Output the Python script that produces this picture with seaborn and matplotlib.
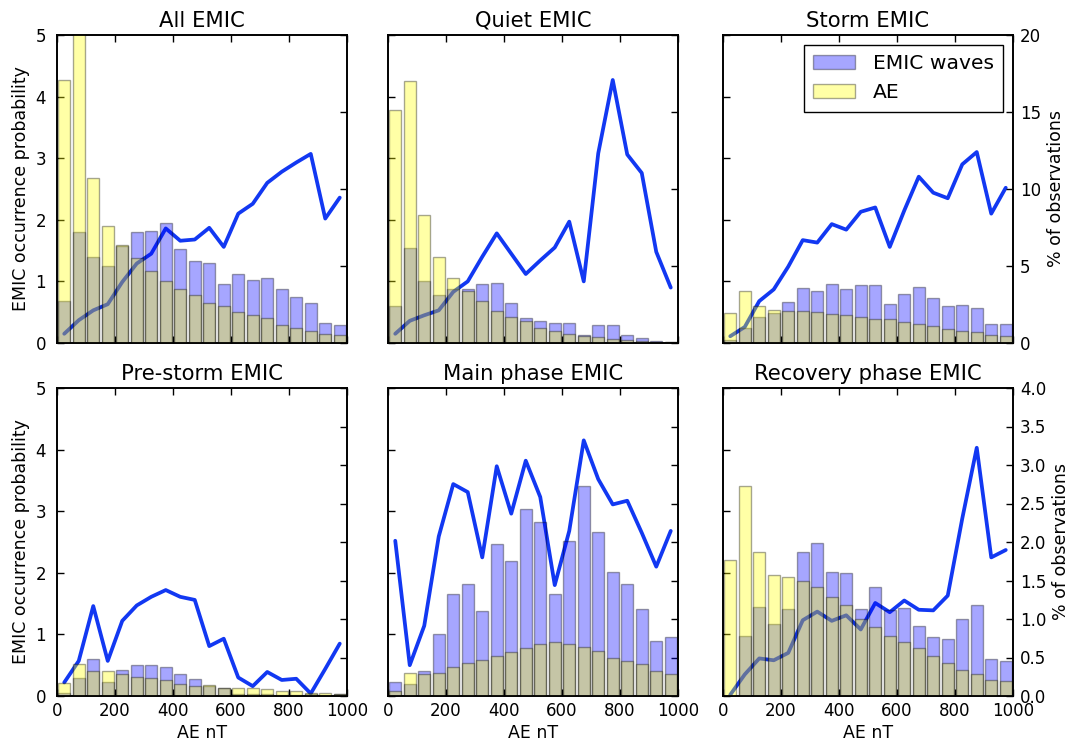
import matplotlib
matplotlib.use("Agg")
import matplotlib.pyplot as plt
from matplotlib.ticker import FormatStrFormatter
import numpy as np
import seaborn as sns

# AE bins: 50 nT wide, 0-1000 nT
ae_bin_centres = np.arange(25, 1000, 50)

titles = ["All EMIC", "Quiet EMIC", "Storm EMIC",
          "Pre-storm EMIC", "Main phase EMIC", "Recovery phase EMIC"]

# EMIC occurrence probability in each AE bin (left axis)
prob_all = [0.15, 0.37, 0.53, 0.63, 0.99, 1.29, 1.45, 1.86, 1.66, 1.68,
            1.87, 1.56, 2.10, 2.26, 2.60, 2.78, 2.93, 3.07, 2.02, 2.36]
prob_quiet = [0.15, 0.36, 0.45, 0.53, 0.83, 1.00, 1.40, 1.78, 1.45, 1.12,
              1.34, 1.55, 1.97, 1.00, 3.08, 4.27, 3.06, 2.76, 1.48, 0.90]
prob_storm = [0.11, 0.26, 0.68, 0.87, 1.24, 1.67, 1.63, 1.93, 1.84, 2.13,
              2.20, 1.56, 2.15, 2.70, 2.44, 2.35, 2.90, 3.10, 2.10, 2.52]
prob_pre = [0.22, 0.57, 1.46, 0.57, 1.22, 1.47, 1.61, 1.72, 1.61, 1.56,
            0.81, 0.93, 0.30, 0.16, 0.39, 0.26, 0.28, 0.04, 0.44, 0.85]
prob_main = [2.52, 0.50, 1.14, 2.59, 3.44, 3.31, 2.25, 3.73, 2.96, 3.82,
             3.23, 1.80, 2.68, 4.15, 3.52, 3.11, 3.17, 2.65, 2.10, 2.68]
prob_recovery = [0.02, 0.35, 0.61, 0.58, 0.70, 1.23, 1.37, 1.22, 1.31, 1.08,
                 1.51, 1.36, 1.55, 1.40, 1.39, 1.63, 2.88, 4.03, 2.25, 2.37]

# % of observations of EMIC waves in each AE bin (right axis)
emic_all = [2.7, 7.2, 5.6, 5.0, 6.3, 7.2, 7.3, 7.8, 6.1, 5.3,
            5.2, 3.8, 4.5, 4.1, 4.2, 3.5, 3.0, 2.6, 1.3, 1.2]
emic_quiet = [2.4, 6.2, 4.0, 3.1, 3.5, 3.5, 3.8, 3.9, 2.6, 1.6,
              1.4, 1.3, 1.3, 0.5, 1.2, 1.2, 0.5, 0.3, 0.1, 0.05]
emic_storm = [0.22, 0.98, 1.69, 1.95, 2.67, 3.55, 3.38, 3.81, 3.53, 3.75,
              3.75, 2.51, 3.20, 3.64, 2.93, 2.38, 2.45, 2.30, 1.21, 1.21]
emic_pre = [0.04, 0.24, 0.48, 0.18, 0.34, 0.40, 0.40, 0.38, 0.29, 0.22,
            0.13, 0.11, 0.03, 0.02, 0.02, 0.01, 0.01, 0.02, 0.005, 0.02]
emic_main = [0.18, 0.15, 0.33, 0.80, 1.33, 1.46, 1.10, 1.98, 1.75, 2.43,
             2.26, 1.32, 2.01, 2.73, 2.13, 1.61, 1.46, 1.13, 0.71, 0.77]
emic_recovery = [0.0, 0.78, 1.16, 0.94, 1.13, 1.87, 1.99, 1.61, 1.60, 1.13,
                 1.41, 1.12, 1.14, 0.91, 0.76, 0.74, 1.00, 1.18, 0.48, 0.45]

# % of observations of AE in each AE bin (right axis)
ae_all = [17.1, 23.0, 10.7, 7.6, 6.35, 5.5, 4.7, 4.0, 3.5, 3.1,
          2.6, 2.4, 2.0, 1.8, 1.6, 1.2, 1.0, 0.8, 0.6, 0.5]
ae_quiet = [15.1, 17.0, 8.3, 5.6, 4.2, 3.4, 2.7, 2.1, 1.7, 1.4,
            1.0, 0.8, 0.6, 0.45, 0.4, 0.25, 0.2, 0.12, 0.08, 0.04]
ae_storm = [1.95, 3.38, 2.38, 2.12, 2.08, 2.08, 2.00, 1.90, 1.84, 1.69,
            1.58, 1.54, 1.37, 1.26, 1.10, 0.89, 0.78, 0.72, 0.50, 0.43]
ae_pre = [0.17, 0.42, 0.32, 0.32, 0.28, 0.25, 0.24, 0.21, 0.16, 0.13,
          0.14, 0.11, 0.11, 0.10, 0.09, 0.07, 0.06, 0.045, 0.045, 0.02]
ae_main = [0.065, 0.30, 0.29, 0.30, 0.38, 0.43, 0.47, 0.52, 0.57, 0.62,
           0.68, 0.70, 0.68, 0.64, 0.58, 0.50, 0.45, 0.42, 0.33, 0.28]
ae_recovery = [1.77, 2.73, 1.87, 1.57, 1.55, 1.50, 1.41, 1.28, 1.18, 1.00,
               0.90, 0.78, 0.70, 0.62, 0.52, 0.43, 0.34, 0.29, 0.21, 0.19]

probs = [prob_all, prob_quiet, prob_storm, prob_pre, prob_main, prob_recovery]
emics = [emic_all, emic_quiet, emic_storm, emic_pre, emic_main, emic_recovery]
aes = [ae_all, ae_quiet, ae_storm, ae_pre, ae_main, ae_recovery]

sns.set_theme(style="white", rc={
    "axes.edgecolor": "black", "axes.labelcolor": "black",
    "text.color": "black", "xtick.color": "black", "ytick.color": "black",
    "axes.linewidth": 1.2,
})
plt.rcParams["font.family"] = ["DejaVu Sans"]

LINE_COLOR = "#1238f2"
TICK_KW = dict(direction="in", length=5, width=1.0, labelsize=12, color="black")

W, H = 1072, 744
fig = plt.figure(figsize=(W / 100, H / 100), dpi=100)
col_left = [57, 388, 723]
row_top = [35, 388]
ax_w, ax_h = 290, 308

for k in range(6):
    row, col = divmod(k, 3)
    l, t = col_left[col], row_top[row]
    ax = fig.add_axes([l / W, 1 - (t + ax_h) / H, ax_w / W, ax_h / H])

    # occurrence probability curve on the left axis
    sns.lineplot(x=ae_bin_centres, y=probs[k], ax=ax, color=LINE_COLOR,
                 linewidth=2.7)
    ax.set_ylim(0, 5)

    # observation histograms on the right axis, drawn over the curve
    ax2 = ax.twinx()
    sns.barplot(x=ae_bin_centres, y=emics[k], native_scale=True, width=0.8,
                color="blue", saturation=1, alpha=0.35, edgecolor="black",
                linewidth=1.0, errorbar=None, ax=ax2, label="EMIC waves")
    sns.barplot(x=ae_bin_centres, y=aes[k], native_scale=True, width=0.8,
                color="yellow", saturation=1, alpha=0.35, edgecolor="black",
                linewidth=1.0, errorbar=None, ax=ax2, label="AE")
    if ax2.get_legend() is not None:
        ax2.get_legend().remove()

    ax.set_xlim(0, 1000)
    ax.set_xticks(range(0, 1001, 200))
    ax.set_yticks(range(0, 6))
    ax.set_xlabel("")
    ax.set_ylabel("")
    ax2.set_ylabel("")

    if row == 0:
        ax2.set_ylim(0, 20)
        ax2.set_yticks(range(0, 21, 5))
    else:
        ax2.set_ylim(0, 4)
        ax2.set_yticks(np.arange(0, 4.01, 0.5))
        ax2.yaxis.set_major_formatter(FormatStrFormatter("%.1f"))

    ax.tick_params(axis="x", bottom=True, top=True, pad=4,
                   labelbottom=(row == 1), **TICK_KW)
    ax.tick_params(axis="y", left=True, right=False, pad=8,
                   labelleft=(col == 0), **TICK_KW)
    ax2.tick_params(axis="y", left=False, right=True, pad=5,
                    labelright=(col == 2), **TICK_KW)

    for sp in list(ax.spines.values()) + list(ax2.spines.values()):
        sp.set_color("black")
        sp.set_linewidth(1.2)

    ax.set_title(titles[k], fontsize=15.2, pad=6)
    if col == 0:
        ax.set_ylabel("EMIC occurrence probability", fontsize=12.5)
    if col == 2:
        ax2.set_ylabel("% of observations", fontsize=12.5)
    if row == 1:
        ax.set_xlabel("AE nT", fontsize=12.5, labelpad=3)

    if k == 2:
        handles, labels = ax2.get_legend_handles_labels()
        leg = ax2.legend(handles, labels, loc="upper right", frameon=True,
                         fancybox=False, framealpha=1, edgecolor="black",
                         fontsize=14.6, handlelength=2.1, handleheight=0.7,
                         handletextpad=0.85, borderpad=0.45,
                         labelspacing=0.5, borderaxespad=0.5)
        leg.get_frame().set_linewidth(1.0)

fig.savefig("out.png", dpi=100)
